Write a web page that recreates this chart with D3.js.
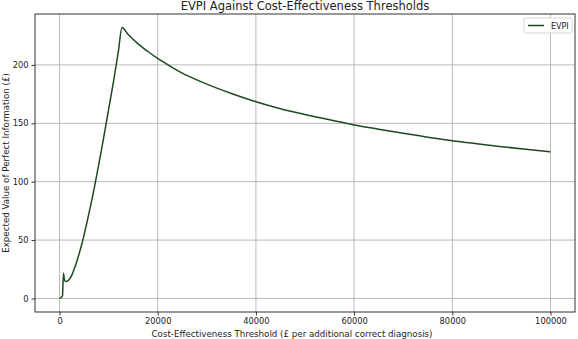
<!DOCTYPE html>
<html>
<head>
<meta charset="utf-8">
<script src="https://cdn.jsdelivr.net/npm/d3@7"></script>
<style>
  body { margin: 0; background: #fff; }
  text { font-family: "DejaVu Sans", sans-serif; fill: #222; }
</style>
</head>
<body>
<script>
// values
const thresholds = [0, 200, 500, 600, 800, 1000, 1300, 1600, 2000, 2500, 3000, 3500, 4000, 4500,
  5000, 6000, 7000, 8000, 9000, 10000, 11000, 12000, 12700, 14000, 16000, 18000, 20000,
  22500, 25000, 27500, 30000, 35000, 40000, 45000, 50000, 55000, 60000, 65000, 70000,
  75000, 80000, 85000, 90000, 95000, 100000];
const evpi = [0, 0.6, 1.5, 2.5, 21.5, 16, 14.5, 14.8, 16.5, 20, 25.5, 31.5, 38.5, 46,
  54.5, 73, 93, 115, 138, 162, 186, 212, 232, 226, 218, 211.5, 205.5,
  199, 193, 188, 183.5, 175.5, 168.5, 162.5, 157.5, 153, 148.5, 145, 141.5,
  138, 135, 132.5, 130, 127.7, 125.5];
const xTicks = [0, 20000, 40000, 60000, 80000, 100000];
const yTicks = [0, 50, 100, 150, 200];

const width = 578;
const height = 339;
const margin = {left: 35, right: 3, top: 14, bottom: 27};
const w = width - margin.left - margin.right;
const h = height - margin.top - margin.bottom;

const svg = d3.select('body')
  .append('svg')
  .attr('width', width)
  .attr('height', height);

const g = svg.append('g')
  .attr('transform', `translate(${margin.left}, ${margin.top})`);

const xScale = d3.scaleLinear()
  .domain([-5000, 105000])
  .range([0, w]);

const yScale = d3.scaleLinear()
  .domain([-11.6, 243.6])
  .range([h, 0]);

// grid
g.selectAll('.gx')
  .data(xTicks)
  .enter()
  .append('line')
  .attr('x1', d => xScale(d))
  .attr('x2', d => xScale(d))
  .attr('y1', 0)
  .attr('y2', h)
  .attr('stroke', '#b8b8b8')
  .attr('stroke-width', 1);

g.selectAll('.gy')
  .data(yTicks)
  .enter()
  .append('line')
  .attr('x1', 0)
  .attr('x2', w)
  .attr('y1', d => yScale(d))
  .attr('y2', d => yScale(d))
  .attr('stroke', '#b8b8b8')
  .attr('stroke-width', 1);

// axes
const xAxis = d3.axisBottom(xScale).tickValues(xTicks).tickFormat(d3.format('d')).tickSize(3.5).tickPadding(3);
const yAxis = d3.axisLeft(yScale).tickValues(yTicks).tickSize(3.5).tickPadding(3);

const xg = g.append('g')
  .attr('transform', `translate(0, ${h})`)
  .call(xAxis);
const yg = g.append('g')
  .call(yAxis);

[xg, yg].forEach(a => {
  a.select('.domain').remove();
  a.selectAll('line').attr('stroke', '#333');
  a.selectAll('text').style('font-size', '8.3px').attr('fill', '#222');
});

// frame
g.append('rect')
  .attr('width', w)
  .attr('height', h)
  .attr('fill', 'none')
  .attr('stroke', '#333')
  .attr('stroke-width', 1);

// line
const line = d3.line()
  .x((d, i) => xScale(thresholds[i]))
  .y(d => yScale(d))
  .curve(d3.curveMonotoneX);

g.append('path')
  .datum(evpi)
  .attr('d', line)
  .attr('fill', 'none')
  .attr('stroke', '#1c4a1c')
  .attr('stroke-width', 1.5);

// legend
const lg = g.append('g')
  .attr('transform', `translate(${w - 51}, 4)`);
lg.append('rect')
  .attr('width', 48)
  .attr('height', 15)
  .attr('rx', 2)
  .attr('fill', '#fff')
  .attr('fill-opacity', 0.8)
  .attr('stroke', '#d6d6d6');
lg.append('line')
  .attr('x1', 4)
  .attr('x2', 20)
  .attr('y1', 7.5)
  .attr('y2', 7.5)
  .attr('stroke', '#1c4a1c')
  .attr('stroke-width', 1.5);
lg.append('text')
  .attr('x', 27)
  .attr('y', 10.5)
  .style('font-size', '8px')
  .text('EVPI');

// titles
svg.append('text')
  .attr('x', margin.left + w / 2)
  .attr('y', 10)
  .attr('text-anchor', 'middle')
  .style('font-size', '11.5px')
  .text('EVPI Against Cost-Effectiveness Thresholds');

svg.append('text')
  .attr('x', margin.left + w / 2 - 13)
  .attr('y', 337)
  .attr('text-anchor', 'middle')
  .style('font-size', '8.7px')
  .text('Cost-Effectiveness Threshold (£ per additional correct diagnosis)');

svg.append('text')
  .attr('transform', `translate(9, ${margin.top + h / 2}) rotate(-90)`)
  .attr('text-anchor', 'middle')
  .style('font-size', '8.7px')
  .text('Expected Value of Perfect Information (£)');
</script>
</body>
</html>
